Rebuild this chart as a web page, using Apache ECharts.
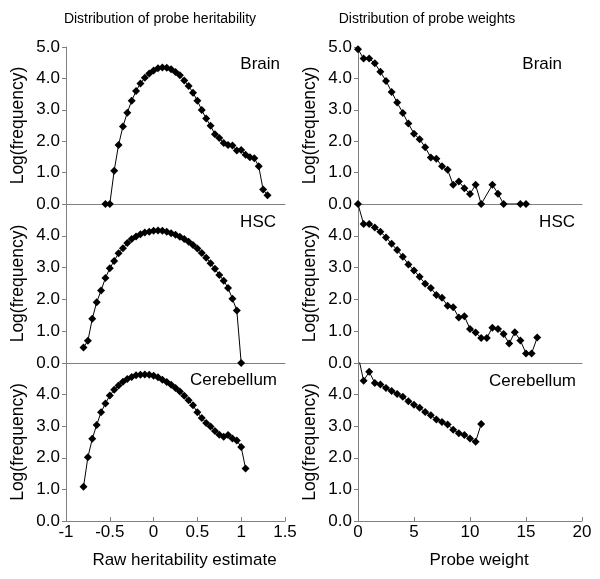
<!DOCTYPE html>
<html>
<head>
<meta charset="utf-8">
<script src="https://cdn.jsdelivr.net/npm/echarts@6/dist/echarts.min.js"></script>
<style>html,body{margin:0;padding:0;background:#fff}#c{width:600px;height:579px}</style>
</head>
<body>
<div id="c"></div>
<script>
// ---- Data ----
const columnTitles = ['Distribution of probe heritability', 'Distribution of probe weights'];
const panelNames = ['Brain', 'HSC', 'Cerebellum'];
const xNames = ['Raw heritability estimate', 'Probe weight'];
const yName = 'Log(frequency)';

// Heritability (left column)
const herBrainX = [-0.55,-0.5,-0.45,-0.4,-0.35,-0.3,-0.25,-0.2,-0.15,-0.1,-0.05,0,0.05,0.1,0.15,0.2,0.25,0.3,0.35,0.4,0.45,0.5,0.55,0.6,0.65,0.7,0.75,0.8,0.85,0.9,0.95,1.0,1.05,1.1,1.15,1.2,1.25,1.3];
const herBrainY = [0,0,1.06,1.88,2.47,2.91,3.29,3.6,3.84,4.02,4.16,4.25,4.32,4.35,4.34,4.29,4.2,4.1,3.93,3.76,3.54,3.29,2.99,2.72,2.49,2.22,2.1,1.94,1.88,1.86,1.7,1.72,1.57,1.49,1.46,1.2,0.46,0.28];

const herHscX = [-0.8,-0.75,-0.7,-0.65,-0.6,-0.55,-0.5,-0.45,-0.4,-0.35,-0.3,-0.25,-0.2,-0.15,-0.1,-0.05,0,0.05,0.1,0.15,0.2,0.25,0.3,0.35,0.4,0.45,0.5,0.55,0.6,0.65,0.7,0.75,0.8,0.85,0.9,0.95,1.0];
const herHscY = [0.49,0.7,1.39,1.91,2.28,2.67,2.98,3.21,3.45,3.61,3.77,3.9,3.98,4.05,4.1,4.13,4.16,4.17,4.16,4.13,4.08,4.03,3.97,3.9,3.81,3.71,3.6,3.46,3.31,3.14,2.96,2.77,2.59,2.36,2.02,1.65,0];

const herCbX = [-0.8,-0.75,-0.7,-0.65,-0.6,-0.55,-0.5,-0.45,-0.4,-0.35,-0.3,-0.25,-0.2,-0.15,-0.1,-0.05,0,0.05,0.1,0.15,0.2,0.25,0.3,0.35,0.4,0.45,0.5,0.55,0.6,0.65,0.7,0.75,0.8,0.85,0.9,0.95,1.0,1.05];
const herCbY = [1.08,2.02,2.6,3.04,3.44,3.72,3.97,4.15,4.29,4.41,4.49,4.56,4.61,4.63,4.64,4.63,4.6,4.55,4.47,4.4,4.31,4.21,4.1,3.96,3.82,3.66,3.44,3.26,3.1,2.99,2.85,2.73,2.67,2.72,2.61,2.55,2.34,1.66];

// Probe weights (right column)
const wBrainX = [0,0.5,1,1.5,2,2.5,3,3.5,4,4.5,5,5.5,6,6.5,7,7.5,8,8.5,9,9.5,10,10.5,11,12,12.5,13,14.5,15];
const wBrainY = [4.93,4.63,4.63,4.48,4.21,3.92,3.57,3.23,2.9,2.56,2.24,2.06,1.81,1.48,1.44,1.2,1.09,0.61,0.72,0.5,0.32,0.61,0,0.61,0.33,0,0,0];

const wHscX = [0,0.5,1,1.5,2,2.5,3,3.5,4,4.5,5,5.5,6,6.5,7,7.5,8,8.5,9,9.5,10,10.5,11,11.5,12,12.5,13,13.5,14,14.5,15,15.5,16];
const wHscY = [5.0,4.37,4.37,4.26,4.13,3.95,3.75,3.55,3.34,3.1,2.91,2.71,2.49,2.36,2.14,2.05,1.8,1.75,1.43,1.47,1.07,0.96,0.79,0.79,1.11,1.07,0.91,0.61,0.97,0.71,0.3,0.3,0.8];

const wCbX = [0,0.5,1,1.5,2,2.5,3,3.5,4,4.5,5,5.5,6,6.5,7,7.5,8,8.5,9,9.5,10,10.5,11];
const wCbY = [5.25,4.44,4.72,4.37,4.32,4.21,4.11,4.02,3.93,3.79,3.68,3.58,3.45,3.35,3.21,3.13,3.05,2.89,2.78,2.72,2.61,2.51,3.07];

const leftTicks = {min: -1, max: 1.5, interval: 0.5};
const rightTicks = {min: 0, max: 20, interval: 5};
const yTicks = {min: 0, max: 5, interval: 1};

// ---- Layout ----
const FONT = '"Liberation Sans", Arial, Helvetica, sans-serif';
const AXIS_COLOR = '#808080';
const cols = [{left: 66, width: 219}, {left: 358, width: 224}];
const rows = [{top: 47, height: 157}, {top: 204, height: 159}, {top: 363, height: 158}];

const seriesData = [
  [[herBrainX, herBrainY], [herHscX, herHscY], [herCbX, herCbY]],
  [[wBrainX, wBrainY], [wHscX, wHscY], [wCbX, wCbY]]
];
const xTicks = [leftTicks, rightTicks];

const grids = [], xAxes = [], yAxes = [], series = [];
let gi = 0;
for (let c = 0; c < 2; c++) {
  for (let r = 0; r < 3; r++) {
    grids.push({left: cols[c].left, width: cols[c].width, top: rows[r].top, height: rows[r].height, containLabel: false});
    const bottom = r === 2;
    xAxes.push({
      type: 'value', gridIndex: gi,
      min: xTicks[c].min, max: xTicks[c].max, interval: xTicks[c].interval,
      axisLine: {show: true, onZero: false, lineStyle: {color: AXIS_COLOR, width: 1}},
      axisTick: {show: bottom, inside: true, length: 4, lineStyle: {color: AXIS_COLOR}},
      axisLabel: {show: bottom, color: '#000', fontSize: 17, fontFamily: FONT, margin: 3},
      splitLine: {show: false},
      name: bottom ? xNames[c] : '',
      nameLocation: 'middle', nameGap: 31,
      nameTextStyle: {color: '#000', fontSize: 17, fontFamily: FONT, padding: [0, 0, 0, 18]}
    });
    yAxes.push({
      type: 'value', gridIndex: gi,
      min: yTicks.min, max: yTicks.max, interval: yTicks.interval,
      axisLine: {show: true, onZero: false, lineStyle: {color: AXIS_COLOR, width: 1}},
      axisTick: {show: true, inside: false, length: 4, lineStyle: {color: AXIS_COLOR}},
      axisLabel: {color: '#000', fontSize: 17, fontFamily: FONT, margin: 6,
        formatter: v => v.toFixed(1), showMaxLabel: r === 0},
      splitLine: {show: false},
      name: yName, nameLocation: 'middle', nameGap: 39,
      nameTextStyle: {color: '#000', fontSize: 17.5, fontFamily: FONT}
    });
    const [xs, ys] = seriesData[c][r];
    series.push({
      type: 'line', xAxisIndex: gi, yAxisIndex: gi,
      data: xs.map((x, i) => [x, ys[i]]),
      symbol: 'diamond', symbolSize: 8, clip: true,
      lineStyle: {color: '#000', width: 1},
      itemStyle: {color: '#000'},
      animation: false
    });
    gi++;
  }
}

const labelPos = [
  [{x: 280, y: 64}, {x: 276, y: 222}, {x: 277, y: 380}],
  [{x: 562, y: 64}, {x: 575, y: 222}, {x: 576, y: 381}]
];
const graphics = [];
for (let c = 0; c < 2; c++) for (let r = 0; r < 3; r++) {
  graphics.push({type: 'text', x: labelPos[c][r].x, y: labelPos[c][r].y, z: 10,
    style: {text: panelNames[r], textAlign: 'right', textVerticalAlign: 'middle',
      fontSize: 17, fontFamily: FONT, fill: '#000'}});
}

const option = {
  backgroundColor: '#fff',
  animation: false,
  title: [
    {text: columnTitles[0], left: 155, top: 7, textAlign: 'center',
      textStyle: {fontSize: 14, fontWeight: 'normal', color: '#000', fontFamily: FONT}},
    {text: columnTitles[1], left: 422, top: 7, textAlign: 'center',
      textStyle: {fontSize: 14, fontWeight: 'normal', color: '#000', fontFamily: FONT}}
  ],
  grid: grids, xAxis: xAxes, yAxis: yAxes, series: series,
  graphic: graphics
};
const chart = echarts.init(document.getElementById('c'), null, {renderer: 'canvas'});
chart.setOption(option);
</script>
</body>
</html>
